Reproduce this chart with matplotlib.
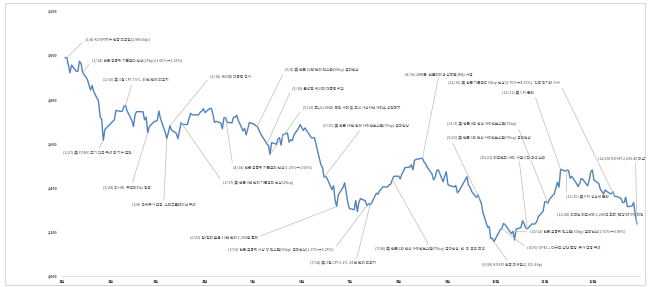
import datetime as dt
import matplotlib
matplotlib.use('Agg')
import matplotlib.pyplot as plt
from matplotlib.patches import Rectangle

plt.rcParams['font.family'] = ['Noto Sans CJK KR', 'DejaVu Sans']

# KOSPI 2022 daily close
dates = [
    '01-03', '01-04', '01-05', '01-06', '01-07', '01-10', '01-11', '01-12', '01-13', '01-14',
    '01-17', '01-18', '01-19', '01-20', '01-21', '01-24', '01-25', '01-26', '01-27', '01-28',
    '02-03', '02-04', '02-07', '02-08', '02-09', '02-10', '02-11', '02-14', '02-15', '02-16',
    '02-17', '02-18', '02-21', '02-22', '02-23', '02-24', '02-25', '02-28',
    '03-02', '03-03', '03-04', '03-07', '03-08', '03-10', '03-11', '03-14', '03-15', '03-16',
    '03-17', '03-18', '03-21', '03-22', '03-23', '03-24', '03-25', '03-28', '03-29', '03-30', '03-31',
    '04-01', '04-04', '04-05', '04-06', '04-07', '04-08', '04-11', '04-12', '04-13', '04-14',
    '04-15', '04-18', '04-19', '04-20', '04-21', '04-22', '04-25', '04-26', '04-27', '04-28', '04-29',
    '05-02', '05-03', '05-04', '05-06', '05-09', '05-10', '05-11', '05-12', '05-13', '05-16',
    '05-17', '05-18', '05-19', '05-20', '05-23', '05-24', '05-25', '05-26', '05-27', '05-30', '05-31',
    '06-02', '06-03', '06-07', '06-08', '06-09', '06-10', '06-13', '06-14', '06-15', '06-16',
    '06-17', '06-20', '06-21', '06-22', '06-23', '06-24', '06-27', '06-28', '06-29', '06-30',
    '07-01', '07-04', '07-05', '07-06', '07-07', '07-08', '07-11', '07-12', '07-13', '07-14',
    '07-15', '07-18', '07-19', '07-20', '07-21', '07-22', '07-25', '07-26', '07-27', '07-28', '07-29',
    '08-01', '08-02', '08-03', '08-04', '08-05', '08-08', '08-09', '08-10', '08-11', '08-12',
    '08-16', '08-17', '08-18', '08-19', '08-22', '08-23', '08-24', '08-25', '08-26', '08-29', '08-30', '08-31',
    '09-01', '09-02', '09-05', '09-06', '09-07', '09-08', '09-13', '09-14', '09-15', '09-16',
    '09-19', '09-20', '09-21', '09-22', '09-23', '09-26', '09-27', '09-28', '09-29', '09-30',
    '10-04', '10-05', '10-06', '10-07', '10-11', '10-12', '10-13', '10-14', '10-17', '10-18',
    '10-19', '10-20', '10-21', '10-24', '10-25', '10-26', '10-27', '10-28', '10-31',
    '11-01', '11-02', '11-03', '11-04', '11-07', '11-08', '11-09', '11-10', '11-11', '11-14',
    '11-15', '11-16', '11-17', '11-18', '11-21', '11-22', '11-23', '11-24', '11-25', '11-28', '11-29', '11-30',
    '12-01', '12-02', '12-05', '12-06', '12-07', '12-08', '12-09', '12-12', '12-13', '12-14',
    '12-15', '12-16', '12-19', '12-20', '12-21', '12-22', '12-23', '12-26', '12-27', '12-28', '12-29',
]
kospi = [
    2988.77, 2989.04, 2953.97, 2920.53, 2954.89, 2926.72, 2927.38, 2972.48, 2962.09, 2921.92,
    2890.10, 2864.24, 2842.28, 2862.68, 2834.29, 2792.00, 2720.39, 2709.24, 2614.49, 2663.34,
    2707.82, 2750.26, 2745.06, 2746.47, 2768.85, 2771.93, 2747.71, 2704.48, 2676.54, 2729.68,
    2744.52, 2744.09, 2743.80, 2706.79, 2719.53, 2648.80, 2676.76, 2699.18,
    2703.52, 2747.08, 2713.43, 2651.31, 2622.40, 2680.32, 2661.28, 2645.65, 2621.53, 2659.23,
    2694.51, 2686.05, 2686.10, 2713.89, 2736.50, 2729.98, 2729.66, 2729.56, 2741.07, 2746.74, 2757.65,
    2739.85, 2757.90, 2759.20, 2735.03, 2695.86, 2700.39, 2693.10, 2666.76, 2716.49, 2716.71,
    2696.06, 2693.21, 2718.69, 2718.89, 2728.21, 2704.71, 2657.13, 2668.31, 2639.06, 2667.49, 2695.05,
    2687.45, 2680.46, 2677.57, 2644.51, 2610.81, 2596.56, 2592.27, 2550.08, 2604.24, 2596.58,
    2620.44, 2625.98, 2592.34, 2639.29, 2647.38, 2605.87, 2617.22, 2612.45, 2638.05, 2669.66, 2685.90,
    2658.99, 2670.65, 2626.15, 2625.44, 2625.98, 2595.87, 2504.51, 2492.97, 2447.38, 2451.41,
    2440.93, 2391.03, 2408.93, 2342.81, 2314.32, 2366.60, 2401.92, 2422.09, 2377.99, 2332.64,
    2305.42, 2300.34, 2341.78, 2292.01, 2334.27, 2350.61, 2340.27, 2317.76, 2328.61, 2322.32,
    2330.98, 2375.25, 2370.15, 2386.85, 2393.14, 2403.69, 2403.22, 2412.90, 2415.53, 2435.27, 2451.50,
    2452.25, 2439.62, 2461.45, 2473.11, 2490.80, 2493.10, 2503.46, 2480.88, 2523.78, 2527.94,
    2533.52, 2516.47, 2508.05, 2492.69, 2462.50, 2435.34, 2447.45, 2477.26, 2481.03, 2426.89, 2450.93, 2472.05,
    2415.61, 2409.41, 2403.68, 2410.02, 2376.46, 2384.28, 2449.54, 2411.42, 2401.83, 2382.78,
    2355.66, 2367.85, 2347.21, 2332.31, 2290.00, 2220.94, 2223.86, 2169.29, 2170.93, 2155.49,
    2209.38, 2215.22, 2237.86, 2232.84, 2192.07, 2202.47, 2162.87, 2212.55, 2219.71, 2249.95,
    2237.44, 2218.09, 2213.12, 2236.16, 2235.07, 2235.96, 2246.64, 2268.40, 2293.61,
    2335.24, 2336.79, 2329.17, 2348.47, 2371.79, 2399.04, 2424.41, 2402.41, 2483.16, 2474.65,
    2480.33, 2477.45, 2442.90, 2451.31, 2419.50, 2405.27, 2418.01, 2441.33, 2437.86, 2408.27, 2433.39, 2472.53,
    2479.84, 2434.33, 2419.32, 2393.16, 2382.81, 2371.08, 2389.04, 2373.36, 2372.40, 2381.53,
    2360.86, 2360.87, 2352.17, 2333.23, 2332.79, 2356.73, 2313.69, 2317.14, 2332.79, 2280.45, 2236.40,
]

month_labels = ['1월', '2월', '3월', '4월', '5월', '6월', '7월', '8월', '9월', '10월', '11월', '12월']
y_ticks = [2000, 2200, 2400, 2600, 2800, 3000, 3200]

# event notes: date, text, text left x / center y (pixels from top-left), leader attach point on text
notes = [
    ('01-04', '(1/4) KOSPI지수 연중 최고점(2,989.04p)', 85, 40, (0, 0.5)),
    ('01-14', '(1/14) 한은 금통위 기준금리 인상(25bp)(1.00%→1.25%)', 92, 61, (0, 0.5)),
    ('02-10', '(2/10) 美 1월 CPI 7.5%, 40년 만에 최고치', 103, 80, (0.45, 0)),
    ('03-10', '(3/10) 제20대 대통령 선거', 210, 77, (0, 0.5)),
    ('01-27', '(1/27) 美 FOMC 조기 긴축 우려 등 지수 급락', 63, 153, (0.5, 1)),
    ('02-24', '(2/24) 러시아, 우크라이나 침공', 103, 187, (0.6, 1)),
    ('03-08', '(3/8) 국제유가 급등, 스태그플레이션 우려', 132, 204, (0.5, 1)),
    ('03-17', '(3/17) 美 연준 3년 만에 기준금리 인상(25bp)', 223, 183, (0, 0.5)),
    ('04-14', '(4/14) 한은 금통위 기준금리 인상(1.25%→1.50%)', 233, 167, (0, 0.5)),
    ('05-04', '(5/4) 美 연준 22년 만에 빅스텝(50bp) 금리인상', 285, 70, (0, 0.5)),
    ('05-10', '(5/10) 윤석열 제20대 대통령 취임', 292, 88, (0, 0.5)),
    ('05-12', '(5/12) 루나(LUNA) 폭락 사태 및 국내 가상자산 거래소 상장폐지', 303, 108, (0, 0.5)),
    ('06-15', '(6/15) 美 연준 28년 만에 자이언트스텝(75bp) 금리인상', 323, 126, (0.45, 0)),
    ('06-23', '(6/23) 원/달러 환율 13년 만에 1,300원 돌파', 190, 237, (1, 0.5)),
    ('07-13', '(7/13) 한은 금통위 사상 첫 빅스텝(50bp) 금리인상(1.75%→2.25%)', 228, 250, (1, 0.5)),
    ('07-14', '(7/14) 美 6월 CPI 9.1%, 41년 만에 최고치', 310, 263, (0.7, 1)),
    ('07-28', '(7/28) 美 연준 2회 연속 자이언트스텝(75bp) 금리인상, 한·미 금리 역전', 375, 249, (0.5, 1)),
    ('08-16', '(8/16) 바이든, 인플레이션 감축법(IRA) 서명', 405, 74, (0.5, 0)),
    ('12-15', '(12/15) 美 연준 기준금리 50bp 인상(3.75%→4.25%), 긴축 장기화 시사', 448, 83, (1, 0.5)),
    ('11-11', '(11/11) 美 CPI 둔화', 502, 93, (1, 0.5)),
    ('11-03', '(11/3) 美 연준 4회 연속 자이언트스텝(75bp)', 447, 124, (1, 0.5)),
    ('09-21', '(9/21) 美 연준 3회 연속 자이언트스텝(75bp) 금리인상', 447, 138, (0.05, 0)),
    ('10-21', '(10/21) 레고랜드 사태, 자금시장 경색 심화', 480, 157, (0.6, 0)),
    ('12-29', '(12/29) KOSPI 2,236.40 마감', 598, 158, (0.8, 0)),
    ('11-15', '(11/15) 美 PPI 상승세 둔화', 566, 197, (0, 0.5)),
    ('12-28', '(12/28) 외국인 매도세에 2,280선 후퇴, 연간 24.9% 하락', 557, 215, (0.6, 1)),
    ('10-12', '(10/12) 한은 금통위 빅스텝(50bp) 금리인상(2.50%→3.00%)', 530, 232, (0, 0.5)),
    ('10-05', '(10/5) OPEC+ 대규모 감산 결정, 유가 급등 우려', 527, 248, (0, 0.5)),
    ('09-30', '(9/30) KOSPI 연중 최저점(2,155.49p)', 482, 265, (0.45, 1)),
]


def to_date(s):
    return dt.date(2022, int(s[:2]), int(s[3:]))


W, H = 650, 287
fig = plt.figure(figsize=(W / 100, H / 100), dpi=100)
ax = fig.add_axes([62 / W, 1 - 276 / H, 578 / W, 265 / H])

x = [to_date(d) for d in dates]
ax.plot(x, kospi, color='#5182bd', lw=1.0, solid_joinstyle='round', zorder=3)

ax.set_xlim(dt.date(2022, 1, 1), dt.date(2022, 12, 31))
ax.set_ylim(2000, 3200)
ax.set_xticks([dt.date(2022, m, 1) for m in range(1, 13)])
ax.set_xticklabels(month_labels, fontsize=2.8, fontweight='bold', color='#404040')
ax.set_yticks(y_ticks)
ax.set_yticklabels([f'{v:,}' for v in y_ticks], fontsize=2.6, fontweight='bold', color='#404040')
ax.tick_params(length=0, pad=3)

for side in ['left', 'top', 'right']:
    ax.spines[side].set_visible(False)
ax.spines['bottom'].set_color('#d9d9d9')
ax.spines['bottom'].set_linewidth(0.6)

for d, label, tx, ty, rp in notes:
    v = kospi[dates.index(d)]
    ax.annotate(label, xy=(to_date(d), v), xytext=(tx, H - ty), textcoords='figure pixels',
                ha='left', va='center', fontsize=2.7, color='#505050',
                arrowprops=dict(arrowstyle='-', color='#bcbcbc', lw=0.5, relpos=rp,
                                shrinkA=0, shrinkB=0))

fig.add_artist(Rectangle((5 / W, 2 / H), 640 / W, 282 / H, transform=fig.transFigure,
                         fill=False, ec='#d9d9d9', lw=0.8))

fig.savefig('out.png', dpi=100, facecolor='white')
